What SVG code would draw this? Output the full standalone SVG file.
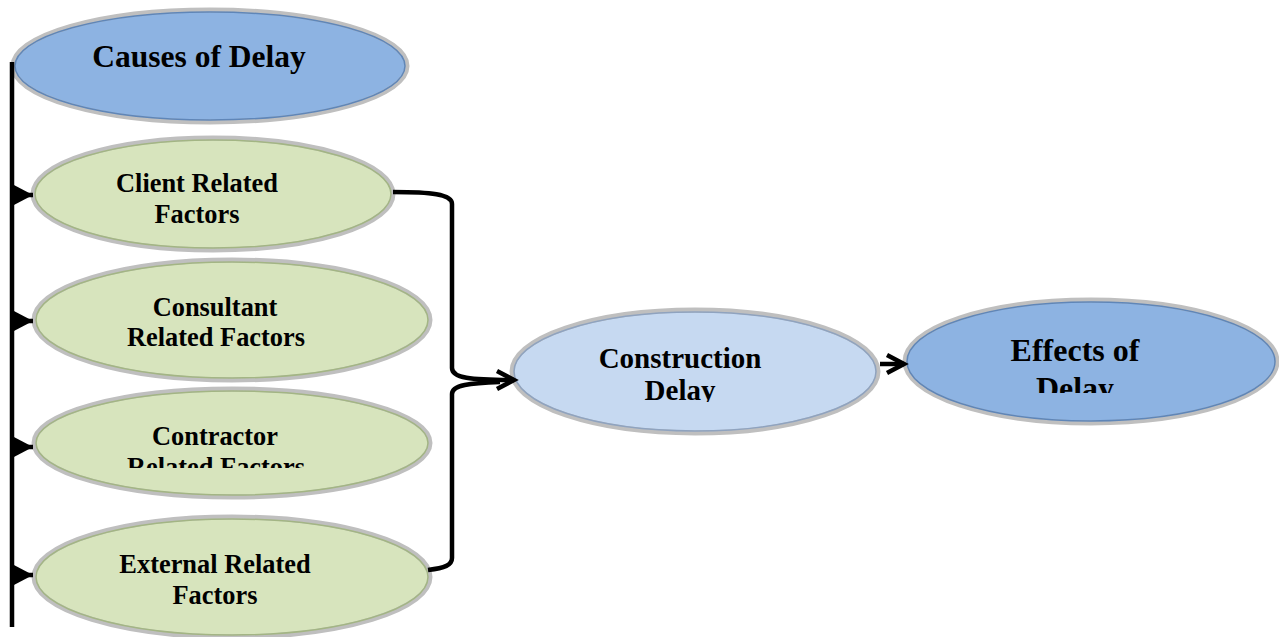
<svg xmlns="http://www.w3.org/2000/svg" width="1279" height="637" viewBox="0 0 1279 637">
<style>
.outer{stroke:#bfbfbf;stroke-width:5}
.dark{fill:#8db3e2}
.green{fill:#d7e4bd}
.light{fill:#c6d9f1}
.inb{fill:none;stroke:#5f86b8;stroke-width:1.5}
.ing{fill:none;stroke:#a3b584;stroke-width:1.5}
.inl{fill:none;stroke:#8fa3bf;stroke-width:1.5}
text{font-family:"Liberation Serif","Times New Roman",serif;font-weight:bold;fill:#000;text-anchor:middle}
.big{font-size:31.5px}
.eff{font-size:32px}
.mid{font-size:29px}
.sm{font-size:26.4px}
.conn{fill:none;stroke:#000;stroke-width:4.5}
</style>
<defs>
<marker id="tri" markerUnits="userSpaceOnUse" markerWidth="24" markerHeight="24" refX="21" refY="11" orient="auto">
<path d="M0,0 L21,11 L0,22 Z" fill="#000"/>
</marker>
<marker id="chev" markerUnits="userSpaceOnUse" markerWidth="26" markerHeight="26" refX="20" refY="11" orient="auto">
<path d="M3,2 L20,11 L3,20" fill="none" stroke="#000" stroke-width="4.5"/>
</marker>
<clipPath id="clipC"><rect x="0" y="0" width="1279" height="468"/></clipPath>
<clipPath id="clipD"><rect x="0" y="0" width="1279" height="402"/></clipPath>
<clipPath id="clipE"><rect x="0" y="0" width="1279" height="393"/></clipPath>
</defs>

<g id="causes">
<ellipse class="outer dark" cx="210" cy="66" rx="197" ry="56"/>
<ellipse class="inb" cx="210" cy="66" rx="195" ry="54"/>
<text class="big" x="199" y="67">Causes of Delay</text>
</g>

<g id="client">
<ellipse class="outer green" cx="213" cy="194" rx="180" ry="56"/>
<ellipse class="ing" cx="213" cy="194" rx="178" ry="54"/>
<text class="sm" x="197" y="192">Client Related</text>
<text class="sm" x="197" y="223">Factors</text>
</g>

<g id="consultant">
<ellipse class="outer green" cx="232" cy="320" rx="198" ry="60"/>
<ellipse class="ing" cx="232" cy="320" rx="196" ry="58"/>
<text class="sm" x="215" y="316">Consultant</text>
<text class="sm" x="216" y="346">Related Factors</text>
</g>

<g id="contractor">
<ellipse class="outer green" cx="232" cy="443" rx="198" ry="54"/>
<ellipse class="ing" cx="232" cy="443" rx="196" ry="52"/>
<text class="sm" x="215" y="445">Contractor</text>
<text class="sm" x="216" y="476" clip-path="url(#clipC)">Related Factors</text>
</g>

<g id="external">
<ellipse class="outer green" cx="232" cy="577" rx="198" ry="60"/>
<ellipse class="ing" cx="232" cy="577" rx="196" ry="58"/>
<text class="sm" x="215" y="573">External Related</text>
<text class="sm" x="215" y="604">Factors</text>
</g>

<g id="construction">
<ellipse class="outer light" cx="695" cy="371.5" rx="183" ry="61.5"/>
<ellipse class="inl" cx="695" cy="371.5" rx="181" ry="59.5"/>
<text class="mid" x="680" y="368">Construction</text>
<text class="mid" x="680" y="400" clip-path="url(#clipD)">Delay</text>
</g>

<g id="effects">
<ellipse class="outer dark" cx="1091" cy="361.5" rx="186" ry="61.5"/>
<ellipse class="inb" cx="1091" cy="361.5" rx="184" ry="59.5"/>
<text class="eff" x="1075" y="361">Effects of</text>
<text class="eff" x="1075" y="399" clip-path="url(#clipE)">Delay</text>
</g>

<g id="connectors">
<path class="conn" d="M12,62 L12,627"/>
<path class="conn" d="M12,195 L33,195" marker-end="url(#tri)" stroke-width="0"/>
<path class="conn" d="M12,321 L33,321" marker-end="url(#tri)" stroke-width="0"/>
<path class="conn" d="M12,447 L33,447" marker-end="url(#tri)" stroke-width="0"/>
<path class="conn" d="M12,575 L33,575" marker-end="url(#tri)" stroke-width="0"/>
<path class="conn" d="M393,192 C430,192 452,194 452,204 L452,368 C452,378 470,380 514,380" marker-end="url(#chev)"/>
<path class="conn" d="M428,570 C445,568 452,565 452,558 L452,394 C452,385 470,383 500,382"/>
<path class="conn" d="M880,364 L904,364" marker-end="url(#chev)"/>
</g>
</svg>
